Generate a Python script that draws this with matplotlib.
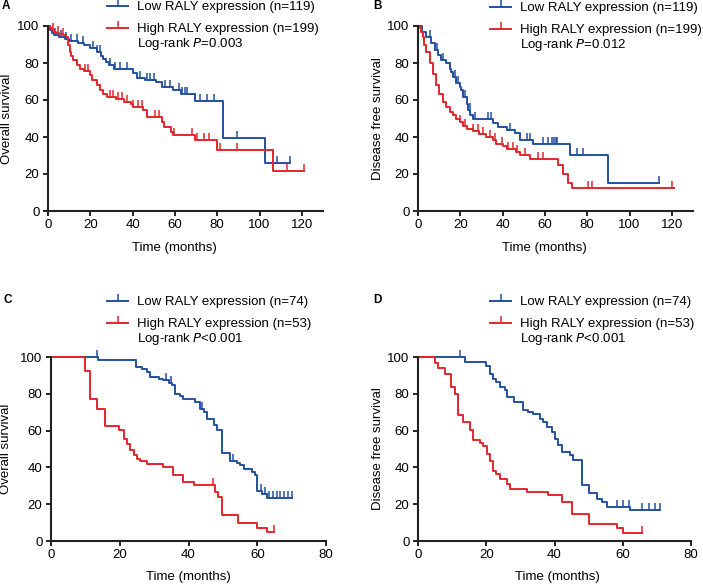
import numpy as np
import matplotlib
matplotlib.use("Agg")
import matplotlib.pyplot as plt

plt.rcParams['font.family'] = ['Liberation Sans', 'DejaVu Sans']

BLUE = '#2350a0'
RED = '#e3262c'
AXIS = '#222222'

# ---- panel A: overall survival, TCGA cohort ----
a_low_t = [0, 1, 2, 3, 5, 8, 10, 14, 17, 20, 23, 25, 26, 27.5, 29, 31, 40, 42, 46, 51, 54, 59, 63, 69.6, 82.8, 102.6, 114.5]
a_low_s = [100, 98, 96, 95, 94, 93, 92, 91, 89.7, 88, 86, 84, 82, 80.7, 79, 77, 74.4, 72, 71, 70, 66.8, 65.3, 63.5, 59.4, 39.5, 26, 26]
a_low_c = [3.2, 6.3, 8.7, 11, 13.5, 16.6, 21.4, 23, 24.5, 29.3, 31.7, 34, 37.2, 43.5, 46.7, 48.3, 49.9, 55.4, 57.8,
           61.7, 63.3, 64.9, 65.7, 72, 75.2, 78.4, 89.4, 108.4, 114.5]
a_high_t = [0, 1, 2, 3, 4, 5, 7, 8.5, 9.5, 10.5, 11, 12, 13.5, 15, 17, 20, 21, 23, 24.5, 26, 28, 32, 36, 39, 40, 45,
            46.7, 54, 55, 58, 59, 69.3, 80, 106.5, 121]
a_high_s = [100, 99, 98, 97, 96, 95.5, 95, 94, 90, 86, 84, 81.6, 79, 77, 75.6, 73.5, 70.8, 68, 65.3, 63, 61.7, 60.8,
            59, 58, 56.3, 54.5, 51, 48.2, 45.5, 42.8, 41, 38.3, 32.9, 21.7, 21.7]
a_high_c = [2.4, 4.7, 7.1, 17.4, 19, 29.3, 30.9, 33.2, 34.8, 37.2, 40.4, 42.7, 44.3, 50.6, 52.3, 59.4, 68.1, 70.4,
            73.6, 76, 81.5, 89.4, 113.2, 121]

# ---- panel B: disease free survival, TCGA cohort ----
b_low_t = [0, 2, 4, 6.3, 8, 9.5, 11, 13.4, 15, 15.8, 16.6, 18, 19.7, 20.5, 21.3, 23, 23.7, 24.8, 26, 35.5, 38, 42,
           46, 48, 54.5, 72, 90, 114]
b_low_s = [100, 97, 94.2, 90.6, 87, 84.3, 81.6, 79.8, 77, 75.3, 72.6, 69, 67.1, 65.3, 61.7, 58.1, 54.5, 51.8, 50,
           47.3, 45.5, 43.7, 41.9, 38.6, 36.1, 30.1, 15.3, 15.3]
b_low_c = [5.5, 9, 11.8, 15, 17.4, 18.9, 22.1, 24.5, 26.8, 33.2, 34.7, 43.4, 51.3, 52.9, 59.2, 61.6, 63.2, 64.3,
           65.2, 65.9, 75, 78.2, 114]
b_high_t = [0, 1, 1.6, 2.4, 3, 4, 5.5, 7, 8.7, 10, 12, 13.4, 15, 16.6, 18, 19.7, 21.3, 23, 26, 29, 32, 35.5, 37, 40,
            42, 46.5, 48, 53, 66, 68.7, 71, 72.6, 121]
b_high_s = [100, 99, 97, 94, 90, 86, 80, 74, 68, 63, 59, 56, 53.5, 52, 50, 48, 46, 44.5, 43, 41.5, 40, 38.6, 36, 35,
            33.5, 32, 30.5, 28, 25, 20, 15, 12.5, 12.5]
b_high_c = [19.7, 22.1, 26, 28.4, 30.8, 33.9, 36.3, 39.5, 42.6, 45, 46.6, 50.5, 56.8, 59.2, 80.5, 82.1, 120]

# ---- panel C: overall survival, validation cohort ----
c_low_t = [0, 13.8, 24.8, 26.4, 27.9, 28.9, 31.3, 32.7, 34.2, 35.2, 36.1, 37.6, 38.5, 42, 43.4, 44.4, 45.3, 47.3,
           48.2, 49.7, 52.1, 54, 55, 56, 58.4, 59.4, 59.9, 61.3, 62.8, 70]
c_low_s = [100, 98.6, 94.6, 93.3, 91.8, 89.1, 88.2, 87.3, 85.9, 84.6, 79.7, 78.6, 77.4, 75.5, 71.9, 70.1, 66.5, 62.9,
           60.1, 47.8, 43.5, 42.4, 41.1, 39.3, 37.5, 35.7, 27.2, 25.4, 23.6, 23.6]
c_low_c = [13.4, 33.5, 35, 44, 53, 61, 62.3, 63.3, 64.5, 65.6, 66.6, 67.7, 68.8, 70]
c_high_t = [0, 10, 11.4, 13.4, 15.8, 19.7, 21.1, 22.1, 23, 24, 25, 26, 27.9, 32.7, 35.6, 38.5, 41.5, 47.7, 48.7,
            49.7, 54.5, 59.9, 62.8, 65]
c_high_s = [100, 92.2, 77.4, 71.6, 62.3, 60.5, 55.3, 52.9, 49.3, 46.6, 44.7, 43.5, 42, 40.2, 35.7, 32.1, 30.3, 26.6,
            23.9, 13.9, 9.8, 7.2, 4.9, 4.9]
c_high_c = [47, 65]

# ---- panel D: disease free survival, validation cohort ----
d_low_t = [0, 13.7, 20, 21, 22, 23, 24, 25.5, 26, 28, 30.9, 32.3, 33.8, 35.7, 36.7, 37.7, 39.2, 40.2, 41.1, 42.1,
           44.6, 45.5, 48, 50, 52.4, 53.9, 55.3, 62.2, 70.8]
d_low_s = [100, 97.5, 94.9, 90.9, 88.2, 86.4, 83.7, 81.9, 78.3, 75.5, 71, 70.1, 68.8, 66.5, 64.7, 61.9, 59.2, 55.6,
           52, 48.4, 46.6, 44.2, 30.3, 26.3, 23, 21.2, 18.5, 16.7, 16.7]
d_low_c = [12.2, 58.3, 60.2, 61.7, 65.6, 67.6, 69.5, 70.8]
d_high_t = [0, 4.9, 5.9, 7.8, 9.8, 10.8, 11.8, 13.2, 15.2, 16.2, 18.1, 19.1, 20.1, 21.1, 22, 23, 24, 26, 26.9, 31.8,
            38.2, 42.1, 45, 50, 58.3, 60.2, 65.6]
d_high_s = [100, 97, 94.2, 90.6, 83.7, 79.7, 68.3, 64.7, 60.1, 55.1, 53.3, 51.4, 47.5, 43.5, 38, 36.2, 33.8, 31.1,
            28.4, 26.6, 24.8, 21.2, 14.5, 9.4, 7.2, 4.3, 4.3]
d_high_c = [65.6]

panels = [
    dict(letter='A', ylabel='Overall survival', xmax=130, xticks=range(0, 121, 20),
         low=(a_low_t, a_low_s, a_low_c), high=(a_high_t, a_high_s, a_high_c),
         n_low=119, n_high=199, p='=0.003'),
    dict(letter='B', ylabel='Disease free survival', xmax=130, xticks=range(0, 121, 20),
         low=(b_low_t, b_low_s, b_low_c), high=(b_high_t, b_high_s, b_high_c),
         n_low=119, n_high=199, p='=0.012'),
    dict(letter='C', ylabel='Overall survival', xmax=80, xticks=range(0, 81, 20),
         low=(c_low_t, c_low_s, c_low_c), high=(c_high_t, c_high_s, c_high_c),
         n_low=74, n_high=53, p='<0.001'),
    dict(letter='D', ylabel='Disease free survival', xmax=80, xticks=range(0, 81, 20),
         low=(d_low_t, d_low_s, d_low_c), high=(d_high_t, d_high_s, d_high_c),
         n_low=74, n_high=53, p='<0.001'),
]

W, H = 703, 586
fig = plt.figure(figsize=(W / 100, H / 100), dpi=100)

# axes boxes in pixels: left, top, right, bottom
boxes = [(48, 26, 323, 211), (418, 26, 693, 211), (51, 357, 326, 541), (418, 357, 691, 541)]
legend_pos = [(107, 0), (490, 1), (107, 295), (490, 295)]
letter_pos = [(2, 6), (373, 6), (3, 300), (373, 300)]
ylab_x = [-0.149, -0.146, -0.162, -0.146]
xlab = [(0.46, -0.2), (0.46, -0.2), (0.5, -0.196), (0.51, -0.196)]


def draw_km(ax, t, s, cens, color, label):
    t = np.asarray(t)
    s = np.asarray(s)
    ax.step(t, s, where='post', color=color, lw=1.4, clip_on=False)
    idx = np.searchsorted(t, cens, side='right') - 1
    ax.plot(cens, s[idx], ls='none', marker=2, ms=5, mew=1.1, color=color, clip_on=False)
    # legend handle: line with a censor tick
    h, = ax.plot([], [], color=color, lw=1.4, marker=2, ms=5, mew=1.1, label=label)
    return h


for i, p in enumerate(panels):
    l, t, r, b = boxes[i]
    ax = fig.add_axes([l / W, 1 - b / H, (r - l) / W, (b - t) / H])
    h1 = draw_km(ax, *p['low'], BLUE, 'Low RALY expression (n=%d)' % p['n_low'])
    h2 = draw_km(ax, *p['high'], RED, 'High RALY expression (n=%d)' % p['n_high'])

    ax.set_xlim(0, p['xmax'])
    ax.set_ylim(0, 100)
    ax.set_xticks(list(p['xticks']))
    ax.set_yticks(range(0, 101, 20))
    for side in ['top', 'right']:
        ax.spines[side].set_visible(False)
    for side in ['left', 'bottom']:
        ax.spines[side].set_linewidth(1.5)
        ax.spines[side].set_color(AXIS)
    ax.tick_params(direction='out', length=3.6, width=1.4, color=AXIS, labelsize=9.5, pad=2.5)

    ax.set_ylabel(p['ylabel'], fontsize=9.5, va='center')
    ax.yaxis.set_label_coords(ylab_x[i], 0.5)
    ax.set_xlabel('Time (months)', fontsize=9.5)
    ax.xaxis.label.set_va('center')
    ax.xaxis.set_label_coords(*xlab[i])

    lx, ly = legend_pos[i]
    fig.legend(handles=[h1, h2], loc='upper left', bbox_to_anchor=(lx / W, 1 - (ly + 1) / H),
               frameon=False, fontsize=9.5, handlelength=1.6, handletextpad=0.7,
               labelspacing=0.75, borderpad=0, borderaxespad=0)
    fig.text((lx + 30) / W, 1 - (ly + 44) / H, 'Log-rank $\\it{P}$' + p['p'], fontsize=9.5,
             ha='left', va='center')
    fig.text(letter_pos[i][0] / W, 1 - letter_pos[i][1] / H, p['letter'], fontsize=8.5,
             fontweight='bold', ha='left', va='center')

fig.savefig('out.png', dpi=100)
